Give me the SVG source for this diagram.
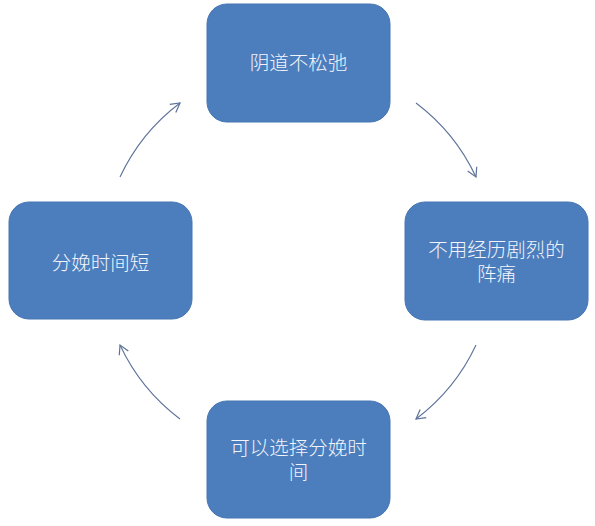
<svg xmlns="http://www.w3.org/2000/svg" width="595" height="526" viewBox="0 0 595 526">
<style>
.box{fill:#4c7ebd;stroke:#4676b3;stroke-width:1}
.t{fill:#f2f4fb;font-family:"Noto Sans CJK SC","Noto Sans",sans-serif;font-size:19.5px;font-weight:300;text-anchor:middle}
.c{fill:none;stroke:#5d7299;stroke-width:1.1}
</style>
<defs>
<marker id="ah" viewBox="0 0 12 12" refX="10" refY="6" markerWidth="12" markerHeight="12" markerUnits="userSpaceOnUse" orient="auto">
<path d="M1 1 L10 6 L1 11" fill="none" stroke="#5d7299" stroke-width="1.2"/>
</marker>
</defs>
<rect width="595" height="526" fill="#ffffff"/>
<g id="connectors">
<path class="c" d="M416 103 A197 197 0 0 1 476 177" marker-end="url(#ah)"/>
<path class="c" d="M476 345 A197 197 0 0 1 416 419" marker-end="url(#ah)"/>
<path class="c" d="M180 419 A197 197 0 0 1 120 345" marker-end="url(#ah)"/>
<path class="c" d="M120 177 A197 197 0 0 1 180 103" marker-end="url(#ah)"/>
</g>
<g id="n1">
<rect class="box" x="207" y="4" width="183" height="118" rx="20"/>
<text class="t" x="298.5" y="70">阴道不松弛</text>
</g>
<g id="n2">
<rect class="box" x="405" y="202" width="183" height="118" rx="20"/>
<text class="t" x="496.5" y="257">不用经历剧烈的</text>
<text class="t" x="496.5" y="281">阵痛</text>
</g>
<g id="n3">
<rect class="box" x="207" y="401" width="183" height="117" rx="20"/>
<text class="t" x="298.5" y="455">可以选择分娩时</text>
<text class="t" x="298.5" y="479">间</text>
</g>
<g id="n4">
<rect class="box" x="9" y="202" width="183" height="117" rx="20"/>
<text class="t" x="100.5" y="270">分娩时间短</text>
</g>
</svg>
